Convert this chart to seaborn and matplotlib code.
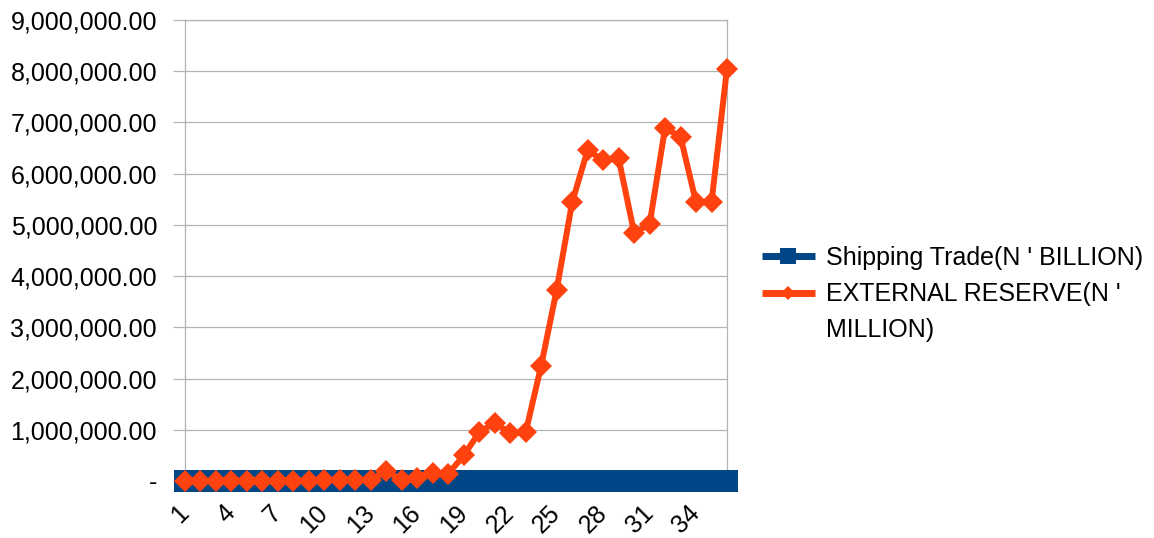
import matplotlib
matplotlib.use("Agg")
import matplotlib.pyplot as plt
from matplotlib.lines import Line2D
from matplotlib.ticker import FuncFormatter, MultipleLocator
import pandas as pd
import seaborn as sns

# Period index (1..36)
periods = list(range(1, 37))

# Shipping trade, N' billion (negligible on this million-scale axis)
shipping_trade = [0, 0, 0, 0, 0, 0, 0, 0, 0, 0, 0, 0,
                  0, 0, 0, 0, 0, 0, 0, 0, 0, 0, 0, 0,
                  0, 0, 0, 0, 0, 0, 0, 0, 0, 0, 0, 0]

# External reserve, N' million
external_reserve = [5000, 4000, 3500, 3000, 2000, 3000, 7000, 9000, 9000, 18000, 25000, 20000,
                    25000, 190000, 20000, 60000, 150000, 140000, 500000, 950000, 1140000, 930000,
                    950000, 2250000, 3730000, 5440000, 6460000, 6260000, 6300000, 4850000,
                    5010000, 6890000, 6720000, 5440000, 5440000, 8050000]

series_labels = ["Shipping Trade(N ' BILLION)", "EXTERNAL RESERVE(N '\nMILLION)"]
tick_periods = periods[::3]
tick_labels = [str(p) for p in tick_periods]

BLUE = "#004586"
ORANGE = "#ff420e"
GRID = "#b3b3b3"

sns.set_theme(style="white")
plt.rcParams["font.family"] = ["Liberation Sans", "DejaVu Sans"]
plt.rcParams["text.color"] = "black"

W, H = 1154, 538
fig = plt.figure(figsize=(W / 100, H / 100), dpi=100)
ax = fig.add_axes([185 / W, 1 - 481 / H, (727 - 185) / W, (481 - 20) / H])

df = pd.DataFrame({"period": periods,
                   "shipping": shipping_trade,
                   "reserve": external_reserve})

sns.lineplot(data=df, x="period", y="shipping", ax=ax, color=BLUE, lw=4.3,
             marker="s", markersize=15.8, markeredgewidth=0, clip_on=False, zorder=3)
sns.lineplot(data=df, x="period", y="reserve", ax=ax, color=ORANGE, lw=4.3,
             marker="D", markersize=11.5, markeredgewidth=0, clip_on=False, zorder=4)

ax.set_xlim(periods[0], periods[-1])
ax.set_ylim(0, 9_000_000)
ax.set_xlabel("")
ax.set_ylabel("")

ax.yaxis.set_major_locator(MultipleLocator(1_000_000))
ax.yaxis.set_major_formatter(FuncFormatter(lambda v, _: "-" if v == 0 else f"{v:,.2f}"))
ax.grid(axis="y", color=GRID, lw=0.9)
ax.grid(axis="x", visible=False)
ax.set_axisbelow(True)

for side in ["left", "right", "top", "bottom"]:
    ax.spines[side].set_color(GRID)
    ax.spines[side].set_linewidth(0.9)

ax.tick_params(axis="y", which="major", left=True, length=8.6, width=0.9, color=GRID,
               pad=11.5, labelsize=18, labelcolor="black")

ax.set_xticks(tick_periods)
ax.set_xticklabels(tick_labels, rotation=45, ha="right", va="center",
                   rotation_mode="anchor")
ax.tick_params(axis="x", length=0, pad=20.5, labelsize=18, labelcolor="black")

handles = [
    Line2D([], [], color=BLUE, lw=5, marker="s", markersize=11.5, markeredgewidth=0,
           solid_capstyle="butt"),
    Line2D([], [], color=ORANGE, lw=5, marker="D", markersize=7.6, markeredgewidth=0,
           solid_capstyle="butt"),
]
leg = fig.legend(handles, series_labels, loc="upper left",
                 bbox_to_anchor=(739 / W, 1 - 223 / H), frameon=False, fontsize=18,
                 handlelength=2.15, handletextpad=0.45, labelspacing=0.52,
                 handleheight=1.1, borderpad=0.4, labelcolor="black")
leg.get_texts()[1].set_linespacing(1.6)
for col in leg._legend_handle_box.get_children():
    for entry in col.get_children():
        entry.align = "top"

fig.savefig("out.png", dpi=100)
